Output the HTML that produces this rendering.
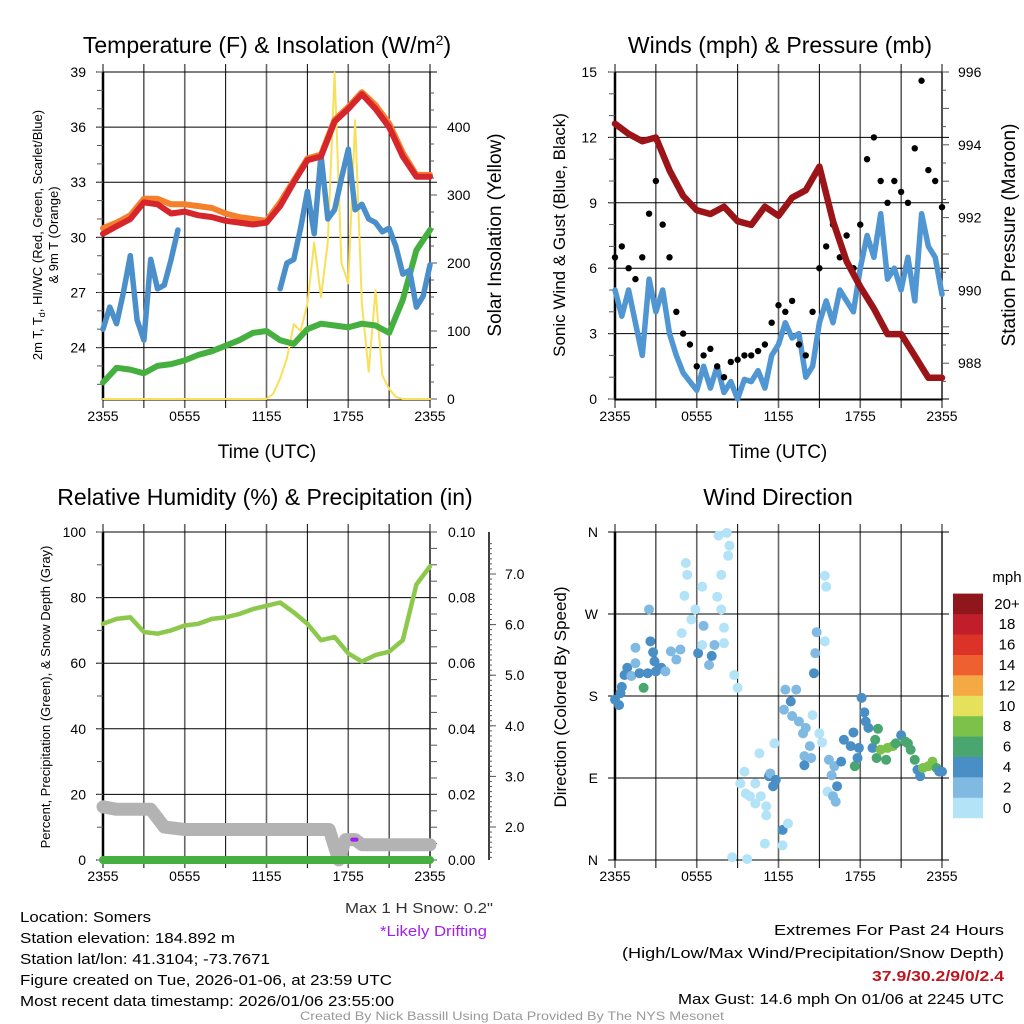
<!DOCTYPE html>
<html><head><meta charset="utf-8"><style>
body{margin:0;background:#fff;}
svg{display:block;font-family:"Liberation Sans",sans-serif;}
</style></head><body>
<svg id="c" width="1024" height="1024" viewBox="0 0 1024 1024">
<text x="267" y="53" font-size="23" text-anchor="middle">Temperature (F) &amp; Insolation (W/m<tspan baseline-shift="super" font-size="14">2</tspan>)</text>
<text x="780" y="53" font-size="23" text-anchor="middle">Winds (mph) &amp; Pressure (mb)</text>
<text x="265" y="505" font-size="23" text-anchor="middle">Relative Humidity (%) &amp; Precipitation (in)</text>
<text x="778" y="505" font-size="23" text-anchor="middle">Wind Direction</text>

<text x="267" y="458" font-size="19" text-anchor="middle">Time (UTC)</text>
<text x="778" y="458" font-size="19" text-anchor="middle">Time (UTC)</text>

<text transform="translate(42,235) rotate(-90)" font-size="13" text-anchor="middle">2m T, T<tspan font-size="9" dy="3">d</tspan><tspan dy="-3">, HI/WC (Red, Green, Scarlet/Blue)</tspan></text>
<text transform="translate(58,235) rotate(-90)" font-size="13" text-anchor="middle">&amp; 9m T (Orange)</text>
<text transform="translate(501,235) rotate(-90)" font-size="19" text-anchor="middle">Solar Insolation (Yellow)</text>
<text transform="translate(565,235) rotate(-90)" font-size="17" text-anchor="middle">Sonic Wind &amp; Gust (Blue, Black)</text>
<text transform="translate(1015,235) rotate(-90)" font-size="19" text-anchor="middle">Station Pressure (Maroon)</text>
<text transform="translate(50,697) rotate(-90)" font-size="13" text-anchor="middle">Percent, Precipitation (Green), &amp; Snow Depth (Gray)</text>
<text transform="translate(566,697) rotate(-90)" font-size="17" text-anchor="middle">Direction (Colored By Speed)</text>

<g font-size="15" font-family="Liberation Sans Narrow, Liberation Sans, sans-serif">
<text x="20" y="922" textLength="131" lengthAdjust="spacingAndGlyphs">Location: Somers</text>
<text x="20" y="943" textLength="215" lengthAdjust="spacingAndGlyphs">Station elevation: 184.892 m</text>
<text x="20" y="964" textLength="250" lengthAdjust="spacingAndGlyphs">Station lat/lon: 41.3104; -73.7671</text>
<text x="20" y="985" textLength="372" lengthAdjust="spacingAndGlyphs">Figure created on Tue, 2026-01-06, at 23:59 UTC</text>
<text x="20" y="1006" textLength="374" lengthAdjust="spacingAndGlyphs">Most recent data timestamp: 2026/01/06 23:55:00</text>
<text x="345" y="913" textLength="148" lengthAdjust="spacingAndGlyphs" fill="#333">Max 1 H Snow: 0.2"</text>
<text x="380" y="936" textLength="107" lengthAdjust="spacingAndGlyphs" fill="#a020f0">*Likely Drifting</text>
<text x="1004" y="935" text-anchor="end" textLength="230" lengthAdjust="spacingAndGlyphs">Extremes For Past 24 Hours</text>
<text x="1004" y="958" text-anchor="end" textLength="382" lengthAdjust="spacingAndGlyphs">(High/Low/Max Wind/Precipitation/Snow Depth)</text>
<text x="1004" y="981" text-anchor="end" textLength="132" lengthAdjust="spacingAndGlyphs" fill="#c0141e" font-weight="bold">37.9/30.2/9/0/2.4</text>
<text x="1004" y="1004" text-anchor="end" textLength="326" lengthAdjust="spacingAndGlyphs">Max Gust: 14.6 mph On 01/06 at 2245 UTC</text>
<text x="512" y="1020" font-size="12" text-anchor="middle" textLength="424" lengthAdjust="spacingAndGlyphs" fill="#999">Created By Nick Bassill Using Data Provided By The NYS Mesonet</text>
</g>
</svg>
<script>
// ---------- data ----------
const hoursHourly=[0,1,2,3,4,5,6,7,8,9,10,11,12,13,14,15,16,17,18,19,20,21,22,23,24];
const tempRed=[30.2,30.6,31.0,31.9,31.8,31.3,31.4,31.2,31.1,30.9,30.8,30.7,30.8,31.7,33.0,34.2,34.4,36.3,37.0,37.8,37.0,36.0,34.4,33.3,33.3];
const temp9mOrange=[30.5,30.8,31.2,32.1,32.1,31.8,31.8,31.7,31.6,31.3,31.1,31.0,30.9,31.9,33.1,34.3,34.5,36.4,37.1,37.9,37.2,36.2,34.6,33.4,33.4];
const dewGreen=[22.1,22.9,22.8,22.6,23.0,23.1,23.3,23.6,23.8,24.1,24.4,24.8,24.9,24.4,24.2,25.0,25.3,25.2,25.1,25.3,25.2,24.8,26.6,29.3,30.4];
const hoursHalf=[0,0.5,1,1.5,2,2.5,3,3.5,4,4.5,5,5.5,6,6.5,7,7.5,8,8.5,9,9.5,10,10.5,11,11.5,12,12.5,13,13.5,14,14.5,15,15.5,16,16.5,17,17.5,18,18.5,19,19.5,20,20.5,21,21.5,22,22.5,23,23.5,24];
const windChillBlue=[25.0,26.2,25.3,27.0,29.0,25.5,24.4,28.8,27.2,27.4,28.8,30.4,null,null,null,null,null,null,null,null,null,null,null,29.8,null,null,27.2,28.6,28.8,30.5,32.5,30.2,34.5,31.0,31.5,33.2,34.8,31.5,31.8,31.0,30.8,30.3,30.5,29.5,28.0,28.2,26.2,26.8,28.5];
const solarYellow=[0,0,0,0,0,0,0,0,0,0,0,0,0,0,0,0,0,0,0,0,0,0,0,0,0,8,30,60,110,100,140,230,150,230,480,200,170,410,140,40,160,35,15,3,0,0,0,0,0];
const pressure=[994.58,994.3,994.1,994.2,993.3,992.6,992.2,992.1,992.3,991.9,991.8,992.3,992.05,992.55,992.75,993.4,991.9,990.8,990.1,989.5,988.8,988.8,988.2,987.6,987.6];
const windBlue=[5.0,3.8,5.0,3.5,2.0,5.5,4.0,5.0,3.0,2.0,1.2,0.8,0.4,1.5,0.5,1.5,0.3,0.8,0.0,0.9,0.8,1.3,0.5,2.0,2.5,3.5,2.8,3.0,1.0,1.5,3.5,4.5,3.5,5.0,4.5,4.0,6.0,7.5,6.5,8.5,5.5,6.0,5.0,6.5,4.5,8.5,7.0,6.5,4.8];
const gustBlack=[6.5,7.0,6.0,5.5,6.5,8.5,10.0,8.0,6.5,4.0,3.0,2.5,1.5,2.0,2.3,1.5,1.0,1.7,1.8,2.0,2.0,2.2,2.5,3.5,4.3,4.0,4.5,2.5,2.0,4.0,6.0,7.0,8.0,6.5,7.5,6.0,8.0,11.0,12.0,10.0,9.0,10.0,9.5,9.0,11.5,14.6,10.5,10.0,8.8];
const rhGreen=[72,73.5,74,69.5,69,70,71.5,72,73.5,74,75,76.5,77.5,78.5,75.5,72,67,68,63,60.5,62.5,63.5,67,84,89.5];
const snowHours=[0,1,2,3,3.5,4.5,6,8,10,12,14,16,16.6,17.3,17.8,18.5,19,20,22,24];
const snowDepth=[2.4,2.35,2.35,2.35,2.35,2.0,1.95,1.95,1.95,1.95,1.95,1.95,1.95,1.35,1.75,1.75,1.65,1.65,1.65,1.65];
const precip=[0,0];
const precipHours=[0,24];
const wdHours=[0,0.3,0.4,0.5,0.7,0.9,1.2,1.5,1.5,1.8,2.1,2.4,2.5,2.6,2.8,2.9,3.0,3.4,3.7,4.1,4.5,4.8,4.9,5.2,5.3,5.1,5.6,5.9,6.1,6.4,6.5,6.4,6.9,7.1,7.3,7.5,7.6,7.8,7.8,8.0,8.0,8.2,8.4,8.3,8.75,9.0,9.2,9.5,9.6,9.9,10.3,10.3,10.6,10.7,11.1,11.3,11.4,11.6,11.8,11.7,11.1,12.3,12.3,12.7,11.0,8.6,9.7,12.4,12.5,12.9,13.3,13.0,13.5,14.0,13.8,14.3,13.9,13.9,14.4,14.6,14.7,14.8,14.5,15.0,15.2,15.4,15.4,15.5,15.7,15.9,16.1,15.6,16.0,16.2,16.3,16.6,16.8,17.3,17.5,17.6,17.8,17.9,18.1,18.3,18.4,18.6,18.9,19.1,19.3,19.2,19.5,19.9,20.0,20.4,20.6,21.0,21.3,21.5,21.7,22.0,22.2,22.4,22.6,23.0,23.3,23.6,23.8,24.0];
const wdDirs=[176,170,183,190,203,211,202,216,233,205,189,205,275,240,228,218,207,211,207,229,220,231,249,326,313,290,264,275,227,300,257,236,214,224,236,289,356,313,275,255,238,359,345,334,203,189,84,97,73,70,84,62,117,70,59,92,95,81,88,128,49,33,16,40,18,3,1,165,187,174,187,158,152,145,139,125,114,104,112,205,227,250,159,139,129,240,312,300,110,93,103,75,70,64,81,108,132,125,140,103,112,123,178,162,152,145,123,132,144,112,121,110,123,125,128,137,130,128,121,110,99,92,101,103,108,101,97,97];
const wdSpeeds=[5,5,5,5,5,5,3,3,3,5,7,5,3,5,5,5,5,5,3,3,3,3,1,1,1,1,1,1,5,1,3,1,3,5,3,1,1,1,1,1,1,1,1,1,1,1,1,1,1,1,1,1,1,1,1,5,3,5,5,1,1,5,1,1,1,1,1,3,3,5,3,3,3,3,3,3,3,5,3,5,3,3,1,1,1,1,1,1,3,3,3,1,3,3,5,5,5,5,5,7,5,5,5,5,5,5,5,7,7,7,9,7,9,9,7,5,7,7,7,7,5,5,9,9,9,7,5,5];
const cbLabels=["0","2","4","6","8","10","12","14","16","18","20+"];
const cbColors=["#b3e3f6","#80b9e2","#4a8ec6","#4aa66f","#7cc24a","#e6e15a","#f5a945","#ef6030","#dd3228","#c01e2a","#8f161b"];
const xTickLabels=["2355","0555","1155","1755","2355"];
const tempTicks=[24,27,30,33,36,39];
const solarTicks=[0,100,200,300,400];
const windTicks=[0,3,6,9,12,15];
const presTicks=[988,990,992,994,996];
const rhTicks=[0,20,40,60,80,100];
const precipTicks=["0.00","0.02","0.04","0.06","0.08","0.10"];
const snowTicks=[2,3,4,5,6,7];
const dirLabels=["N","E","S","W","N"];

// ---------- helpers ----------
const svg=document.getElementById('c');
const NS='http://www.w3.org/2000/svg';
function mk(tag,attrs,parent){const e=document.createElementNS(NS,tag);for(const k in attrs)e.setAttribute(k,attrs[k]);(parent||svg).appendChild(e);return e;}
const xL=h=>103+h*13.625, xR=h=>615+h*13.625;
const yT=v=>399-(v-21.2)*18.37, yS=v=>399-v*0.68;
const yW=v=>399-v*21.8, yP=p=>72+(996-p)*36.4;
const yR=v=>860-v*3.28, yPr=v=>860-v*3280, ySn=v=>827-(v-2)*50.6;
const yD=d=>860-d*328/360;

function frame(x0,y0,name){
  const g=mk('g',{});
  
  
  for(let i=0;i<=8;i++){const x=x0+i*40.875;
    const l=mk('line',{x1:x,x2:x,y1:y0-8,y2:y0+336,stroke:i%2?'#000':'#666','stroke-width':i%2?1:1.6},g);
    }
  mk('rect',{x:x0,y:y0,width:327,height:328,fill:'none',stroke:'#000','stroke-width':1},g);
  mk('line',{x1:x0,x2:x0,y1:y0,y2:y0+328,stroke:'#000','stroke-width':2.5},g);
  xTickLabels.forEach((t,i)=>{const e=mk('text',{x:x0+i*81.75,y:y0+349,'font-size':14,'text-anchor':'middle'},g);e.textContent=t;
    });
  return g;
}
function hgrid(y,x0){const l=mk('line',{x1:x0-7,x2:x0+334,y1:y,y2:y,stroke:'#000','stroke-width':1});
  }
function label(x,y,t,anchor,name,fs){const e=mk('text',{x:x,y:y+5,'font-size':fs||14,'text-anchor':anchor});e.textContent=t;
  return e;}
function minor(x,y,len){mk('line',{x1:x,x2:x+len,y1:y,y2:y,stroke:'#555','stroke-width':1});}
function line(xs,ys,xf,yf,color,w,name){
  let d='',pen=false;
  xs.forEach((h,i)=>{const v=ys[i];if(v===null||v===undefined){pen=false;return;}
    d+=(pen?'L':'M')+xf(h).toFixed(1)+','+yf(v).toFixed(1);pen=true;});
  const p=mk('path',{d:d,fill:'none',stroke:color,'stroke-width':w,'stroke-linejoin':'round','stroke-linecap':'round'});
  return p;
}

// ---------- panel 1: temperature ----------
frame(103,72,'temperature-panel');
tempTicks.forEach(v=>{hgrid(yT(v),103);label(86,yT(v),v,'end','temp-tick-label');});
for(let v=22;v<=39;v++)minor(97,yT(v),6);
solarTicks.forEach(v=>label(447,yS(v),v,'start','solar-tick-label'));
for(let v=0;v<=470;v+=25)minor(430,yS(v),v%100?4:7);
line(hoursHalf,solarYellow,xL,yS,'#f8e05a',2,'solar-line');
line(hoursHourly,dewGreen,xL,yT,'#45b03f',6,'dewpoint-line');
line(hoursHalf,windChillBlue,xL,yT,'#4b8fca',5.5,'windchill-line');
line(hoursHourly,temp9mOrange,xL,yT,'#f4802c',6,'temp-9m-line');
line(hoursHourly,tempRed,xL,yT,'#d7262b',6,'temp-2m-line');

// ---------- panel 2: winds ----------
frame(615,72,'winds-panel');
windTicks.forEach(v=>{hgrid(yW(v),615);label(597,yW(v),v,'end','wind-tick-label');});
for(let v=0;v<=15;v++)minor(609,yW(v),6);
presTicks.forEach(v=>label(958,yP(v),v,'start','pressure-tick-label'));
for(let p=987.5;p<=996;p+=0.5)minor(942,yP(p),p%1?4:7);
line(hoursHalf,windBlue,xR,yW,'#4f96d2',5.5,'wind-speed-line');
gustBlack.forEach((v,i)=>{const c=mk('circle',{cx:xR(hoursHalf[i]),cy:yW(v),r:3.2,fill:'#000'});
  });
line(hoursHourly,pressure,xR,yP,'#9b1518',6.5,'pressure-line');

// ---------- panel 3: humidity ----------
frame(103,532,'humidity-panel');
rhTicks.forEach(v=>{hgrid(yR(v),103);label(86,yR(v),v,'end','rh-tick-label');});
for(let v=0;v<=100;v+=10)minor(97,yR(v),6);
precipTicks.forEach(t=>label(448,yPr(+t),t,'start','precip-tick-label'));
for(let v=0;v<=0.1001;v+=0.005)minor(430,yPr(v),7);
mk('line',{x1:489,x2:489,y1:532,y2:860,stroke:'#000','stroke-width':1.5});
snowTicks.forEach(v=>{label(505,ySn(v),v.toFixed(1),'start','snow-tick-label');minor(489,ySn(v),7);});
for(let v=1.4;v<=7.6;v+=0.1)minor(489,ySn(v),3);
line(snowHours,snowDepth,xL,ySn,'#b3b3b3',13,'snow-depth-line');
line(precipHours,precip,xL,yPr,'#45b03f',8,'precip-line');
line(hoursHourly,rhGreen,xL,yR,'#8cc84b',4.5,'rh-line');
const drift=mk('line',{x1:xL(18.3),x2:xL(18.6),y1:ySn(1.75),y2:ySn(1.75),stroke:'#a020f0','stroke-width':4,'stroke-linecap':'round'});


// ---------- panel 4: wind direction ----------
frame(615,532,'wind-direction-panel');
dirLabels.forEach((t,i)=>{const d=i*90;hgrid(yD(d),615);label(598,yD(d),t,'end','direction-tick-label');});
wdDirs.forEach((d,i)=>{const s=wdSpeeds[i];const bin=Math.min(10,Math.floor(s/2));
  const c=mk('circle',{cx:xR(wdHours[i]),cy:yD(d),r:5,fill:cbColors[bin]});
  });
label(1007,577,'mph','middle','colorbar-title',15);
cbColors.forEach((col,i)=>{const y=818-(i+1)*20.4;
  const r=mk('rect',{x:953,y:y,width:30,height:20.6,fill:col});
  
  label(1007,y+10.2,cbLabels[i],'middle','colorbar-label',15);});
</script>
</body></html>
